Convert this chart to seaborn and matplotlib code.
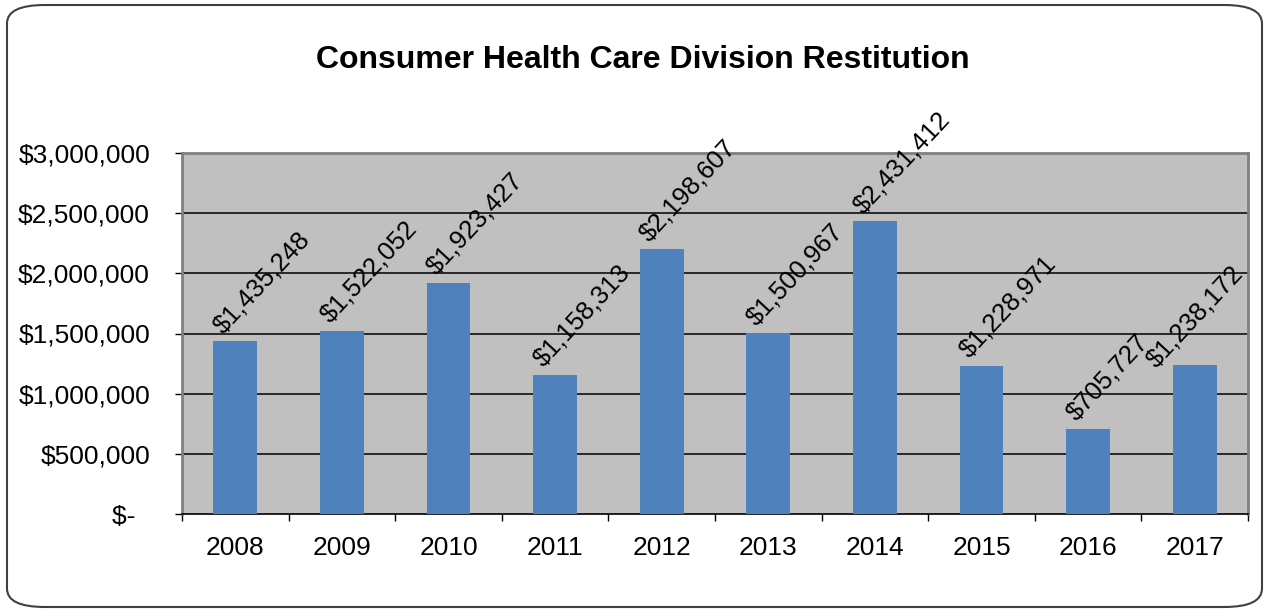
import matplotlib
matplotlib.use("Agg")
import matplotlib.pyplot as plt
import matplotlib.transforms as mtransforms
import seaborn as sns
import pandas as pd
from matplotlib.patches import FancyBboxPatch

years = ["2008", "2009", "2010", "2011", "2012", "2013", "2014", "2015", "2016", "2017"]
restitution = [1435248, 1522052, 1923427, 1158313, 2198607, 1500967, 2431412, 1228971, 705727, 1238172]
ytick_values = [0, 500000, 1000000, 1500000, 2000000, 2500000, 3000000]
ytick_labels = ["$-  ", "$500,000", "$1,000,000", "$1,500,000", "$2,000,000", "$2,500,000", "$3,000,000"]
title = "Consumer Health Care Division Restitution"

df = pd.DataFrame({"year": years, "value": restitution})

sns.set_theme(style="white", rc={"text.color": "black", "xtick.color": "black",
                                 "ytick.color": "black", "axes.labelcolor": "black"})
plt.rcParams["font.family"] = ["Liberation Sans", "DejaVu Sans"]

W, H = 1265, 613
fig = plt.figure(figsize=(W / 100, H / 100), dpi=100)
ax = fig.add_axes([182 / W, 1 - 514 / H, (1248 - 182) / W, (514 - 153) / H])

# outer rounded frame
frame = FancyBboxPatch((7 / W, 6 / H), (1262 - 7) / W, (608 - 6) / H,
                       boxstyle="round,pad=0,rounding_size=0.03",
                       transform=fig.transFigure, facecolor="white",
                       edgecolor="#404040", linewidth=1.5, zorder=-10)
fig.patches.append(frame)

ax.set_facecolor("#C0C0C0")
sns.barplot(data=df, x="year", y="value", color="#4F81BD", width=0.41,
            saturation=1, linewidth=0, edgecolor="none", ax=ax, zorder=3)

ax.set_ylim(0, 3000000)
ax.set_xlim(-0.5, len(years) - 0.5)
ax.set_yticks(ytick_values)
ax.set_yticklabels(ytick_labels)
for v in ytick_values[1:-1]:
    ax.axhline(v, color="black", linewidth=1.1, zorder=1)

ax.set_xlabel("")
ax.set_ylabel("")
for side in ["top", "right", "left"]:
    ax.spines[side].set_color("#808080")
    ax.spines[side].set_linewidth(2)
ax.spines["bottom"].set_color("black")
ax.spines["bottom"].set_linewidth(1.2)

ax.tick_params(axis="y", length=5, width=1, color="black", labelsize=19, pad=18,
               left=True, labelcolor="black")
ax.set_xticks([i - 0.5 for i in range(len(years) + 1)], minor=True)
ax.tick_params(axis="x", which="major", length=0, labelsize=19, pad=16, labelcolor="black")
ax.tick_params(axis="x", which="minor", length=5, width=1, color="black", bottom=True)

labels = []
for i, v in enumerate(restitution):
    t = ax.text(i - 0.08, v + 30000, f"${v:,.0f}", rotation=47, rotation_mode="anchor",
                ha="left", va="bottom", fontsize=18.5, color="black", zorder=5)
    labels.append(t)

fig.text(643 / W, 1 - 60 / H, title, ha="center", va="center", fontsize=23,
         fontweight="bold", color="black")

# keep labels inside the plot area (like the spreadsheet does)
fig.canvas.draw()
renderer = fig.canvas.get_renderer()
ax_right = ax.get_window_extent(renderer).x1
for t in labels:
    bb = t.get_window_extent(renderer)
    over = bb.x1 - ax_right
    if over > 0:
        t.set_transform(ax.transData + mtransforms.Affine2D().translate(-over, -over * 0.4))

fig.savefig("out.png", dpi=100)
